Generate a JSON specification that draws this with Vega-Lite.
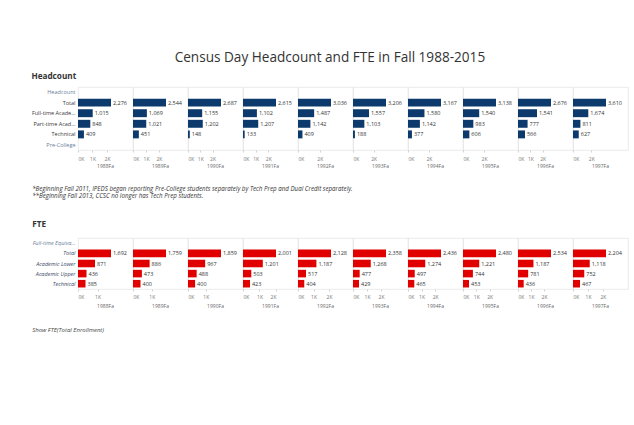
{
  "$schema": "https://vega.github.io/schema/vega-lite/v6.json",
  "padding": {"left": 31, "top": 50, "right": 2, "bottom": 2},
  "background": "white",
  "title": {"text": "Census Day Headcount and FTE in Fall 1988-2015", "fontSize": 13.6, "font": "Open Sans", "fontWeight": "normal", "color": "#333333", "anchor": "middle", "offset": 8},
  "datasets": {
    "headcount": [
      {"year": "1988Fa", "measure": "Total", "value": 2276},
      {"year": "1988Fa", "measure": "Full-time Academic", "value": 1015},
      {"year": "1988Fa", "measure": "Part-time Academic", "value": 848},
      {"year": "1988Fa", "measure": "Technical", "value": 409},
      {"year": "1989Fa", "measure": "Total", "value": 2544},
      {"year": "1989Fa", "measure": "Full-time Academic", "value": 1069},
      {"year": "1989Fa", "measure": "Part-time Academic", "value": 1021},
      {"year": "1989Fa", "measure": "Technical", "value": 451},
      {"year": "1990Fa", "measure": "Total", "value": 2687},
      {"year": "1990Fa", "measure": "Full-time Academic", "value": 1155},
      {"year": "1990Fa", "measure": "Part-time Academic", "value": 1202},
      {"year": "1990Fa", "measure": "Technical", "value": 148},
      {"year": "1991Fa", "measure": "Total", "value": 2615},
      {"year": "1991Fa", "measure": "Full-time Academic", "value": 1102},
      {"year": "1991Fa", "measure": "Part-time Academic", "value": 1207},
      {"year": "1991Fa", "measure": "Technical", "value": 133},
      {"year": "1992Fa", "measure": "Total", "value": 3036},
      {"year": "1992Fa", "measure": "Full-time Academic", "value": 1487},
      {"year": "1992Fa", "measure": "Part-time Academic", "value": 1142},
      {"year": "1992Fa", "measure": "Technical", "value": 409},
      {"year": "1993Fa", "measure": "Total", "value": 3206},
      {"year": "1993Fa", "measure": "Full-time Academic", "value": 1557},
      {"year": "1993Fa", "measure": "Part-time Academic", "value": 1103},
      {"year": "1993Fa", "measure": "Technical", "value": 188},
      {"year": "1994Fa", "measure": "Total", "value": 3167},
      {"year": "1994Fa", "measure": "Full-time Academic", "value": 1580},
      {"year": "1994Fa", "measure": "Part-time Academic", "value": 1142},
      {"year": "1994Fa", "measure": "Technical", "value": 377},
      {"year": "1995Fa", "measure": "Total", "value": 3138},
      {"year": "1995Fa", "measure": "Full-time Academic", "value": 1540},
      {"year": "1995Fa", "measure": "Part-time Academic", "value": 983},
      {"year": "1995Fa", "measure": "Technical", "value": 606},
      {"year": "1996Fa", "measure": "Total", "value": 2676},
      {"year": "1996Fa", "measure": "Full-time Academic", "value": 1541},
      {"year": "1996Fa", "measure": "Part-time Academic", "value": 777},
      {"year": "1996Fa", "measure": "Technical", "value": 566},
      {"year": "1997Fa", "measure": "Total", "value": 3610},
      {"year": "1997Fa", "measure": "Full-time Academic", "value": 1674},
      {"year": "1997Fa", "measure": "Part-time Academic", "value": 811},
      {"year": "1997Fa", "measure": "Technical", "value": 627}
    ],
    "fte": [
      {"year": "1988Fa", "measure": "Total", "value": 1692},
      {"year": "1988Fa", "measure": "Academic Lower", "value": 871},
      {"year": "1988Fa", "measure": "Academic Upper", "value": 436},
      {"year": "1988Fa", "measure": "Technical", "value": 385},
      {"year": "1989Fa", "measure": "Total", "value": 1759},
      {"year": "1989Fa", "measure": "Academic Lower", "value": 886},
      {"year": "1989Fa", "measure": "Academic Upper", "value": 473},
      {"year": "1989Fa", "measure": "Technical", "value": 400},
      {"year": "1990Fa", "measure": "Total", "value": 1859},
      {"year": "1990Fa", "measure": "Academic Lower", "value": 967},
      {"year": "1990Fa", "measure": "Academic Upper", "value": 488},
      {"year": "1990Fa", "measure": "Technical", "value": 400},
      {"year": "1991Fa", "measure": "Total", "value": 2001},
      {"year": "1991Fa", "measure": "Academic Lower", "value": 1201},
      {"year": "1991Fa", "measure": "Academic Upper", "value": 503},
      {"year": "1991Fa", "measure": "Technical", "value": 423},
      {"year": "1992Fa", "measure": "Total", "value": 2128},
      {"year": "1992Fa", "measure": "Academic Lower", "value": 1187},
      {"year": "1992Fa", "measure": "Academic Upper", "value": 517},
      {"year": "1992Fa", "measure": "Technical", "value": 404},
      {"year": "1993Fa", "measure": "Total", "value": 2358},
      {"year": "1993Fa", "measure": "Academic Lower", "value": 1268},
      {"year": "1993Fa", "measure": "Academic Upper", "value": 477},
      {"year": "1993Fa", "measure": "Technical", "value": 429},
      {"year": "1994Fa", "measure": "Total", "value": 2436},
      {"year": "1994Fa", "measure": "Academic Lower", "value": 1274},
      {"year": "1994Fa", "measure": "Academic Upper", "value": 497},
      {"year": "1994Fa", "measure": "Technical", "value": 465},
      {"year": "1995Fa", "measure": "Total", "value": 2480},
      {"year": "1995Fa", "measure": "Academic Lower", "value": 1221},
      {"year": "1995Fa", "measure": "Academic Upper", "value": 744},
      {"year": "1995Fa", "measure": "Technical", "value": 453},
      {"year": "1996Fa", "measure": "Total", "value": 2534},
      {"year": "1996Fa", "measure": "Academic Lower", "value": 1187},
      {"year": "1996Fa", "measure": "Academic Upper", "value": 781},
      {"year": "1996Fa", "measure": "Technical", "value": 436},
      {"year": "1997Fa", "measure": "Total", "value": 2204},
      {"year": "1997Fa", "measure": "Academic Lower", "value": 1118},
      {"year": "1997Fa", "measure": "Academic Upper", "value": 752},
      {"year": "1997Fa", "measure": "Technical", "value": 467}
    ]
  },
  "spacing": 16,
  "vconcat": [
    {
      "data": {"name": "headcount"},
      "title": {"text": "Headcount", "anchor": "start", "frame": "bounds", "fontSize": 8.2, "fontWeight": "bold", "color": "#333333", "offset": 5},
      "facet": {"column": {"field": "year", "type": "ordinal", "header": {"title": null, "labelOrient": "bottom", "labelFontSize": 5, "labelColor": "#666666", "labelPadding": 14}}},
      "spacing": 0,
      "bounds": "flush",
      "resolve": {"scale": {"x": "independent"}},
      "spec": {
        "width": 55,
        "height": 63,
        "encoding": {
          "y": {"field": "measure", "type": "nominal", "title": null,
            "scale": {"domain": ["Headcount", "Total", "Full-time Academic", "Part-time Academic", "Technical", "Pre-College"], "paddingInner": 0.25, "paddingOuter": 0.1},
            "axis": {"labelFontSize": 5.5, "labelColor": {"condition": {"test": "datum.value == 'Headcount' || datum.value == 'Pre-College'", "value": "#6b7f9c"}, "value": "#3a3a3a"}, "labelLimit": 44, "domain": false, "ticks": false, "labelPadding": 3}},
          "x": {"field": "value", "type": "quantitative", "title": null,
            "scale": {"range": [0, 33], "nice": false, "zero": true},
            "axis": {"labelExpr": "datum.value / 1000 + 'K'", "tickCount": 2, "tickMinStep": 1000, "labelFontSize": 5, "labelColor": "#777777", "domain": false, "ticks": true, "tickSize": 2, "tickColor": "#d0d0d0", "grid": false, "labelPadding": 4, "labelFlush": true}}
        },
        "layer": [
          {"mark": {"type": "bar", "color": "#0d3a6c"}},
          {"mark": {"type": "text", "align": "left", "dx": 2, "fontSize": 5.5, "color": "#333333"}, "encoding": {"text": {"field": "value", "type": "quantitative", "format": ","}}}
        ]
      }
    },
    {
      "title": {"text": "Show FTE(Total Enrollment)", "orient": "bottom", "anchor": "start", "frame": "bounds", "fontSize": 6, "fontStyle": "italic", "fontWeight": "normal", "color": "#444444", "offset": 18},
      "vconcat": [
        {
          "data": {"name": "fte"},
          "title": {"text": ["*Beginning Fall 2011, IPEDS began reporting Pre-College students separately by Tech Prep and Dual Credit separately.", "**Beginning Fall 2013, CCSC no longer has Tech Prep students."], "subtitle": "FTE", "anchor": "start", "frame": "bounds", "fontSize": 6.2, "fontStyle": "italic", "fontWeight": "normal", "color": "#333333", "lineHeight": 7.5, "subtitleFontSize": 8.2, "subtitleFontWeight": "bold", "subtitleFontStyle": "normal", "subtitleColor": "#333333", "subtitlePadding": 22, "offset": 9},
          "facet": {"column": {"field": "year", "type": "ordinal", "header": {"title": null, "labelOrient": "bottom", "labelFontSize": 5, "labelColor": "#666666", "labelPadding": 15}}},
          "spacing": 0,
          "bounds": "flush",
          "resolve": {"scale": {"x": "independent"}},
          "spec": {
            "width": 55,
            "height": 51,
            "encoding": {
              "y": {"field": "measure", "type": "nominal", "title": null,
                "scale": {"domain": ["Full-time Equivalent", "Total", "Academic Lower", "Academic Upper", "Technical"], "paddingInner": 0.25, "paddingOuter": 0.15},
                "axis": {"labelFontSize": 5.5, "labelFontStyle": "italic", "labelColor": {"condition": {"test": "datum.value == 'Full-time Equivalent'", "value": "#6b7f9c"}, "value": "#3a4a66"}, "labelLimit": 44, "domain": false, "ticks": false, "labelPadding": 3}},
              "x": {"field": "value", "type": "quantitative", "title": null,
                "scale": {"range": [0, 33], "nice": false, "zero": true},
                "axis": {"labelExpr": "datum.value / 1000 + 'K'", "tickCount": 2, "tickMinStep": 1000, "labelFontSize": 5, "labelColor": "#777777", "domain": false, "ticks": true, "tickSize": 2, "tickColor": "#d0d0d0", "grid": false, "labelPadding": 3, "labelFlush": true}}
            },
            "layer": [
              {"mark": {"type": "bar", "color": "#e00000"}},
              {"mark": {"type": "text", "align": "left", "dx": 2, "fontSize": 5.5, "color": "#333333"}, "encoding": {"text": {"field": "value", "type": "quantitative", "format": ","}}}
            ]
          }
        }
      ]
    }
  ],
  "config": {
    "font": "Open Sans",
    "view": {"stroke": "#e6e6e6", "strokeWidth": 0.8}
  }
}
